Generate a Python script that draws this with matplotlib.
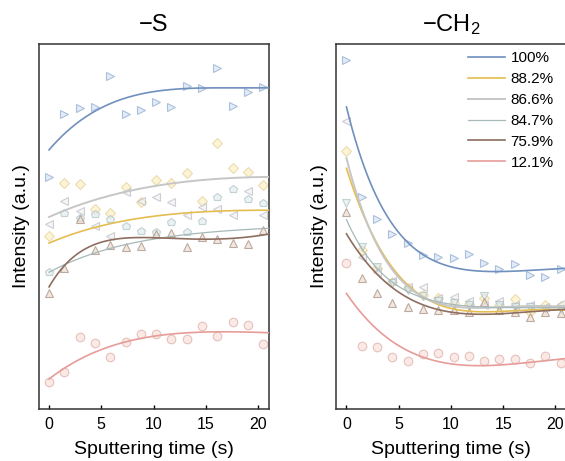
import numpy as np
import matplotlib
matplotlib.use("Agg")
import matplotlib.pyplot as plt

plt.rcParams['font.family'] = ['Liberation Sans', 'DejaVu Sans']
plt.rcParams['mathtext.fontset'] = 'custom'
plt.rcParams['mathtext.rm'] = 'Liberation Sans'
plt.rcParams['mathtext.it'] = 'Liberation Sans:italic'

# sputtering times of the measured points (s)
times = np.arange(15) * 1.464
labels = ['100%', '88.2%', '86.6%', '84.7%', '75.9%', '12.1%']

# ---- -S panel, measured points (a.u.)
s_100 = [63.6, 80.7, 82.4, 82.8, 91.3, 80.8, 81.9, 84.2, 82.8, 88.5, 87.9, 93.5, 83.0, 86.9, 88.1]
s_882 = [47.4, 62.0, 61.6, 54.7, 53.6, 60.9, 56.6, 62.7, 61.8, 64.6, 57.1, 72.8, 65.9, 65.0, 61.4]
s_866 = [50.7, 57.1, 54.3, 50.2, 47.4, 59.5, 57.0, 58.2, 56.8, 53.2, 55.4, 54.7, 53.2, 59.8, 53.2]
s_847 = [37.6, 53.8, 52.3, 53.3, 52.0, 50.1, 48.9, 48.6, 51.3, 48.6, 51.5, 58.2, 60.2, 57.4, 56.4]
s_759 = [31.9, 38.5, 52.0, 43.6, 44.9, 44.5, 44.7, 48.0, 48.1, 44.5, 47.0, 46.5, 45.6, 45.1, 49.0]
s_121 = [7.3, 10.1, 19.6, 18.2, 14.2, 18.4, 20.5, 20.5, 19.2, 19.2, 22.8, 20.1, 23.8, 23.0, 17.8]

# ---- -CH2 panel, measured points (a.u.)
ch_100 = [95.6, 58.2, 52.0, 47.9, 45.4, 42.2, 41.6, 41.3, 42.5, 40.1, 38.3, 39.7, 36.7, 36.1, 38.3]
ch_882 = [70.8, 43.6, 38.5, 34.9, 33.1, 31.2, 30.3, 29.1, 28.8, 30.3, 28.5, 30.0, 26.7, 28.5, 28.2]
ch_866 = [78.8, 41.7, 37.5, 35.0, 33.5, 33.5, 30.3, 30.8, 29.5, 28.5, 29.5, 28.5, 28.5, 28.0, 28.8]
ch_847 = [56.4, 44.5, 39.0, 34.5, 32.5, 31.0, 29.5, 29.0, 28.5, 31.0, 28.5, 28.0, 28.0, 27.5, 27.5]
ch_759 = [54.1, 35.8, 31.7, 29.1, 28.0, 27.5, 27.0, 27.0, 26.5, 29.4, 27.0, 26.5, 25.3, 26.5, 26.2]
ch_121 = [40.1, 17.3, 16.9, 14.2, 13.2, 15.0, 15.3, 14.2, 14.5, 13.2, 13.8, 13.8, 12.5, 14.5, 12.5]

# ---- fitted curves at a few times
fit_t_s = [0, 1.5, 3, 4.5, 7.5, 10, 13, 16, 21]
fit_s_100 = [71.1, 75.3, 78.8, 82.2, 85.2, 86.9, 87.8, 88.0, 88.0]
fit_s_882 = [45.6, 47.0, 48.5, 49.9, 51.7, 53.0, 53.6, 54.1, 54.5]
fit_s_866 = [52.7, 54.3, 55.9, 57.4, 59.8, 61.0, 62.2, 63.0, 63.6]
fit_s_847 = [37.6, 39.2, 41.5, 43.1, 45.0, 46.5, 47.8, 48.6, 49.5]
fit_s_759 = [33.5, 39.3, 43.0, 45.4, 46.8, 46.9, 46.6, 46.6, 47.9]
fit_s_121 = [8.4, 11.1, 13.5, 15.7, 18.5, 20.4, 20.7, 20.9, 21.0]

fit_t_ch = [0, 1, 2, 3, 4, 6, 8, 10, 13, 16, 21]
fit_ch_100 = [82.5, 72.5, 64.5, 57.5, 51.8, 45.0, 41.3, 39.4, 37.6, 37.6, 38.6]
fit_ch_882 = [66.0, 57.5, 50.5, 45.0, 40.8, 33.2, 29.5, 27.8, 26.7, 26.8, 27.1]
fit_ch_866 = [68.5, 59.0, 51.0, 44.5, 39.5, 33.0, 29.8, 28.5, 27.8, 27.8, 28.0]
fit_ch_847 = [51.6, 46.7, 41.8, 38.2, 35.3, 32.0, 30.0, 28.8, 28.0, 27.6, 27.8]
fit_ch_759 = [47.3, 44.0, 40.5, 37.0, 34.0, 29.8, 27.5, 26.6, 26.2, 26.4, 27.2]
fit_ch_121 = [31.0, 28.0, 25.0, 22.0, 19.4, 15.2, 13.2, 12.3, 12.1, 12.6, 13.7]

line_colors = ['#7090bd', '#e4bd50', '#c6c6c6', '#a6b8b8', '#8e6e60', '#e69c98']
face_colors = ['#d2e2f3', '#fcefc4', '#f0f0f0', '#e0ecee', '#eadcd0', '#f9ded8']
edge_colors = ['#86a3cc', '#e2cc8a', '#b6b6c4', '#a8bcc0', '#a08474', '#d9a8a0']
line_widths = [1.2, 1.2, 1.4, 0.9, 1.2, 1.2]


def smooth_fit(tk, yk, tt):
    # least squares: a + b*exp(-t/tau) + c*t + d*t^2
    tk = np.asarray(tk, float)
    yk = np.asarray(yk, float)
    best = None
    for tau in np.linspace(0.5, 12, 116):
        A = np.column_stack([np.ones_like(tk), np.exp(-tk / tau), tk, tk ** 2])
        coef = np.linalg.lstsq(A, yk, rcond=None)[0]
        err = np.sum((A @ coef - yk) ** 2)
        if best is None or err < best[0]:
            best = (err, tau, coef)
    _, tau, c = best
    return c[0] + c[1] * np.exp(-tt / tau) + c[2] * tt + c[3] * tt ** 2


def draw_panel(ax, points, markers, fit_t, fits, title):
    tt = np.linspace(0, 21.1, 300)
    for k in range(6):
        ms = 5.0 if markers[k] == 'D' else 6.2
        ax.plot(times, points[k], linestyle='none', marker=markers[k], ms=ms,
                mfc=face_colors[k], mec=edge_colors[k], mew=0.8, alpha=0.65, zorder=2)
    for k in range(6):
        ax.plot(tt, smooth_fit(fit_t, fits[k], tt), color=line_colors[k],
                lw=line_widths[k], label=labels[k], zorder=3)
    ax.set_xlim(-1.0, 21.05)
    ax.set_ylim(0, 100)
    ax.set_xticks([0, 5, 10, 15, 20])
    ax.set_yticks([])
    ax.tick_params(axis='x', direction='in', length=3, width=1, pad=6, labelsize=11.5)
    for sp in ax.spines.values():
        sp.set_linewidth(1.1)
        sp.set_color('#333333')
    ax.set_xlabel('Sputtering time (s)', fontsize=14, labelpad=6)
    ax.set_ylabel('Intensity (a.u.)', fontsize=14, labelpad=6)
    ax.set_title(title, fontsize=17, pad=9)


fig = plt.figure(figsize=(5.65, 4.61), dpi=100)
ax1 = fig.add_axes([0.0683, 0.1128, 0.4078, 0.7918])
ax2 = fig.add_axes([0.5947, 0.1128, 0.4078, 0.7918])

draw_panel(ax1, [s_100, s_882, s_866, s_847, s_759, s_121],
           ['>', 'D', '<', 'p', '^', 'o'], fit_t_s,
           [fit_s_100, fit_s_882, fit_s_866, fit_s_847, fit_s_759, fit_s_121], '\u2212S')
draw_panel(ax2, [ch_100, ch_882, ch_866, ch_847, ch_759, ch_121],
           ['>', 'D', '<', 'v', '^', 'o'], fit_t_ch,
           [fit_ch_100, fit_ch_882, fit_ch_866, fit_ch_847, fit_ch_759, fit_ch_121],
           '\u2212CH$_2$')

ax2.legend(loc='upper right', bbox_to_anchor=(0.985, 1.005), frameon=False, fontsize=11,
           handlelength=2.4, handletextpad=0.4, labelspacing=0.45, borderaxespad=0.2)

plt.savefig('out.png', dpi=100)
plt.close()
